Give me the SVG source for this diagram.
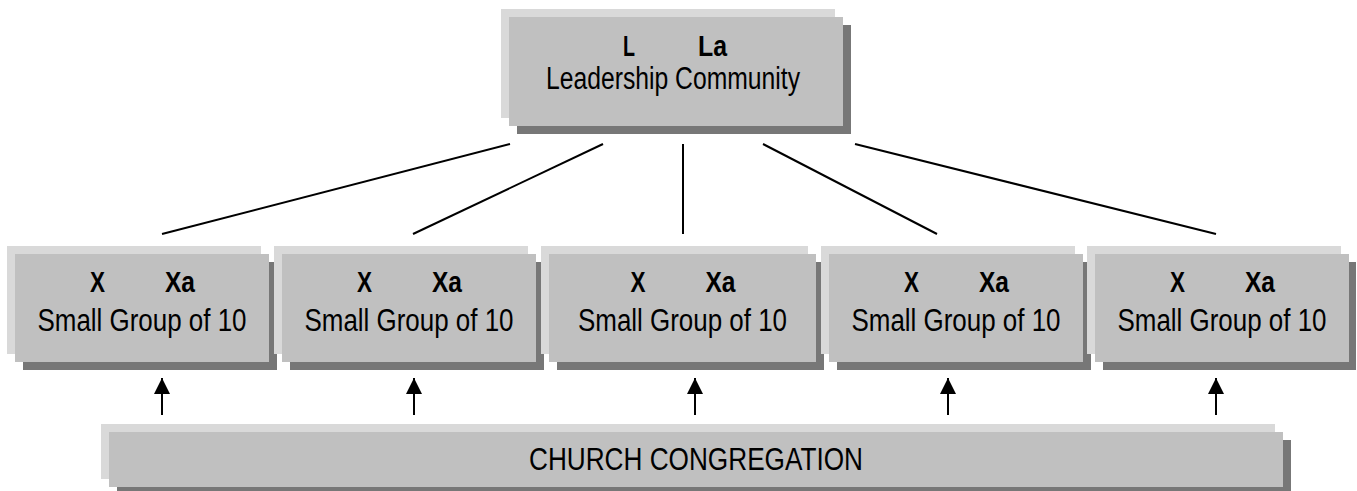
<svg xmlns="http://www.w3.org/2000/svg" width="1357" height="491" viewBox="0 0 1357 491">
  <style>
    .back { fill: #d9d9d9; }
    .shade { fill: #777777; }
    .face { fill: #c0c0c0; }
    .head { font-family: "Liberation Sans", Arial, sans-serif; font-weight: bold; font-size: 29px; fill: #000; }
    .label { font-family: "Liberation Sans", Arial, sans-serif; font-size: 31px; fill: #000; }
    .link { stroke: #000; stroke-width: 2; fill: none; }
  </style>
  <defs>
    <marker id="arrow" viewBox="0 0 16 16" refX="16" refY="8" markerWidth="16" markerHeight="16" markerUnits="userSpaceOnUse" orient="auto">
      <path d="M0,0 L16,8 L0,16 Z" fill="#000"/>
    </marker>
  </defs>

  <rect width="1357" height="491" fill="#fff"/>

  <!-- top node -->
  <g id="leadership">
    <rect class="back" x="501" y="9" width="334" height="109"/>
    <rect class="shade" x="517" y="25" width="334" height="109"/>
    <rect class="face" x="509" y="17" width="334" height="109"/>
    <text class="head" x="629" y="56" text-anchor="middle" textLength="12" lengthAdjust="spacingAndGlyphs">L</text>
    <text class="head" x="712.5" y="56" text-anchor="middle" textLength="29" lengthAdjust="spacingAndGlyphs">La</text>
    <text class="label" x="673" y="89" text-anchor="middle" textLength="254" lengthAdjust="spacingAndGlyphs">Leadership Community</text>
  </g>

  <!-- connectors -->
  <g id="connectors">
    <line class="link" x1="510" y1="144" x2="162" y2="234"/>
    <line class="link" x1="603" y1="144" x2="413" y2="234"/>
    <line class="link" x1="683" y1="144" x2="683" y2="234"/>
    <line class="link" x1="763" y1="144" x2="937" y2="234"/>
    <line class="link" x1="855" y1="144" x2="1216" y2="234"/>
    <line class="link" x1="162" y1="415" x2="162" y2="378" marker-end="url(#arrow)"/>
    <line class="link" x1="414" y1="415" x2="414" y2="378" marker-end="url(#arrow)"/>
    <line class="link" x1="695" y1="415" x2="695" y2="378" marker-end="url(#arrow)"/>
    <line class="link" x1="948" y1="415" x2="948" y2="378" marker-end="url(#arrow)"/>
    <line class="link" x1="1216" y1="415" x2="1216" y2="378" marker-end="url(#arrow)"/>
  </g>

  <!-- small groups -->
  <g id="group1">
    <rect class="back" x="7" y="246" width="254" height="108"/>
    <rect class="shade" x="23" y="262" width="254" height="108"/>
    <rect class="face" x="15" y="254" width="254" height="108"/>
    <text class="head" x="97.5" y="292" text-anchor="middle" textLength="15" lengthAdjust="spacingAndGlyphs">X</text>
    <text class="head" x="180" y="292" text-anchor="middle" textLength="30" lengthAdjust="spacingAndGlyphs">Xa</text>
    <text class="label" x="142" y="331" text-anchor="middle" textLength="209" lengthAdjust="spacingAndGlyphs">Small Group of 10</text>
  </g>
  <g id="group2">
    <rect class="back" x="274" y="246" width="254" height="108"/>
    <rect class="shade" x="290" y="262" width="254" height="108"/>
    <rect class="face" x="282" y="254" width="254" height="108"/>
    <text class="head" x="364.5" y="292" text-anchor="middle" textLength="15" lengthAdjust="spacingAndGlyphs">X</text>
    <text class="head" x="447" y="292" text-anchor="middle" textLength="30" lengthAdjust="spacingAndGlyphs">Xa</text>
    <text class="label" x="409" y="331" text-anchor="middle" textLength="209" lengthAdjust="spacingAndGlyphs">Small Group of 10</text>
  </g>
  <g id="group3">
    <rect class="back" x="541" y="246" width="267" height="108"/>
    <rect class="shade" x="557" y="262" width="267" height="108"/>
    <rect class="face" x="549" y="254" width="267" height="108"/>
    <text class="head" x="638" y="292" text-anchor="middle" textLength="15" lengthAdjust="spacingAndGlyphs">X</text>
    <text class="head" x="720.5" y="292" text-anchor="middle" textLength="30" lengthAdjust="spacingAndGlyphs">Xa</text>
    <text class="label" x="682.5" y="331" text-anchor="middle" textLength="209" lengthAdjust="spacingAndGlyphs">Small Group of 10</text>
  </g>
  <g id="group4">
    <rect class="back" x="821" y="246" width="254" height="108"/>
    <rect class="shade" x="837" y="262" width="254" height="108"/>
    <rect class="face" x="829" y="254" width="254" height="108"/>
    <text class="head" x="911.5" y="292" text-anchor="middle" textLength="15" lengthAdjust="spacingAndGlyphs">X</text>
    <text class="head" x="994" y="292" text-anchor="middle" textLength="30" lengthAdjust="spacingAndGlyphs">Xa</text>
    <text class="label" x="956" y="331" text-anchor="middle" textLength="209" lengthAdjust="spacingAndGlyphs">Small Group of 10</text>
  </g>
  <g id="group5">
    <rect class="back" x="1087" y="246" width="254" height="108"/>
    <rect class="shade" x="1103" y="262" width="253" height="108"/>
    <rect class="face" x="1095" y="254" width="254" height="108"/>
    <text class="head" x="1177.5" y="292" text-anchor="middle" textLength="15" lengthAdjust="spacingAndGlyphs">X</text>
    <text class="head" x="1260" y="292" text-anchor="middle" textLength="30" lengthAdjust="spacingAndGlyphs">Xa</text>
    <text class="label" x="1222" y="331" text-anchor="middle" textLength="209" lengthAdjust="spacingAndGlyphs">Small Group of 10</text>
  </g>

  <!-- congregation -->
  <g id="congregation">
    <rect class="back" x="101" y="424" width="1174" height="55"/>
    <rect class="shade" x="117" y="440" width="1174" height="55"/>
    <rect class="face" x="109" y="432" width="1174" height="55"/>
    <text class="label" x="696" y="470" text-anchor="middle" textLength="334" lengthAdjust="spacingAndGlyphs">CHURCH CONGREGATION</text>
  </g>
</svg>
